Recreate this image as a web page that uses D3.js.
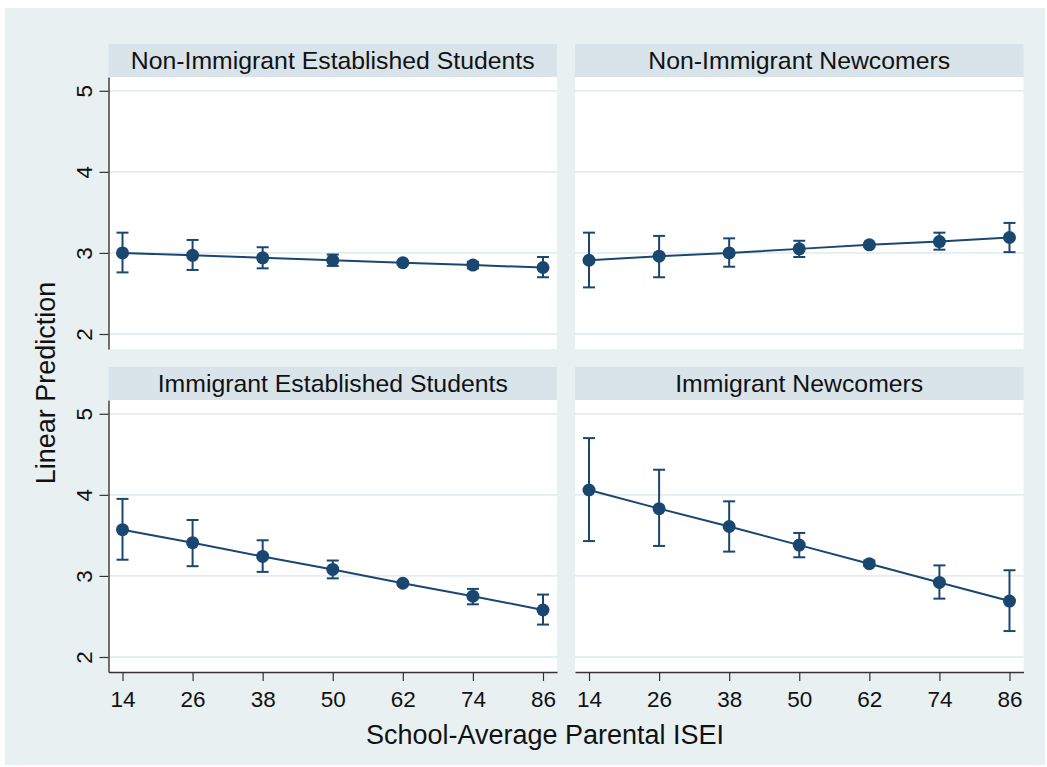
<!DOCTYPE html>
<html>
<head>
<meta charset="utf-8">
<script src="https://cdn.jsdelivr.net/npm/d3@7"></script>
<style>
  html, body { margin: 0; padding: 0; background: #ffffff; }
  svg { display: block; font-family: "Liberation Sans", Arial, Helvetica, sans-serif; }
</style>
</head>
<body>
<svg id="chart" width="1047" height="767"></svg>
<script>
// ---- data ----
const xValues = [14, 26, 38, 50, 62, 74, 86];
const yTicks = [2, 3, 4, 5];
const panelTitles = [
  "Non-Immigrant Established Students",
  "Non-Immigrant Newcomers",
  "Immigrant Established Students",
  "Immigrant Newcomers"
];
const predNonImmEst = [3.00, 2.97, 2.94, 2.91, 2.88, 2.85, 2.82];
const loNonImmEst   = [2.76, 2.79, 2.81, 2.84, 2.86, 2.81, 2.70];
const hiNonImmEst   = [3.25, 3.16, 3.07, 2.98, 2.90, 2.89, 2.95];

const predNonImmNew = [2.91, 2.96, 3.00, 3.05, 3.10, 3.14, 3.19];
const loNonImmNew   = [2.575, 2.70, 2.83, 2.95, 3.07, 3.04, 3.01];
const hiNonImmNew   = [3.25, 3.21, 3.18, 3.15, 3.12, 3.25, 3.37];

const predImmEst = [3.57, 3.41, 3.24, 3.08, 2.91, 2.75, 2.58];
const loImmEst   = [3.20, 3.12, 3.05, 2.97, 2.89, 2.65, 2.40];
const hiImmEst   = [3.95, 3.69, 3.44, 3.19, 2.93, 2.84, 2.77];

const predImmNew = [4.06, 3.83, 3.61, 3.38, 3.15, 2.92, 2.69];
const loImmNew   = [3.43, 3.37, 3.30, 3.23, 3.12, 2.72, 2.32];
const hiImmNew   = [4.70, 4.31, 3.92, 3.53, 3.19, 3.13, 3.07];

const xTitle = "School-Average Parental ISEI";
const yTitle = "Linear Prediction";

// ---- build ----
const panels = [
  { title: panelTitles[0], pred: predNonImmEst, lo: loNonImmEst, hi: hiNonImmEst, col: 0, row: 0 },
  { title: panelTitles[1], pred: predNonImmNew, lo: loNonImmNew, hi: hiNonImmNew, col: 1, row: 0 },
  { title: panelTitles[2], pred: predImmEst,    lo: loImmEst,    hi: hiImmEst,    col: 0, row: 1 },
  { title: panelTitles[3], pred: predImmNew,    lo: loImmNew,    hi: hiImmNew,    col: 1, row: 1 }
];

const navy = "#1a476f";
const bg = "#e8f0f2";
const strip = "#d8e4ea";
const grid = "#e4edf0";

const svg = d3.select("#chart");
svg.append("rect").attr("x", 5).attr("y", 8).attr("width", 1040).attr("height", 757).attr("fill", bg);

const colX = [108.5, 575];
const panelW = 448.5;
const headerTop = [44, 367];
const headerH = 33;
const plotH = 272;

const x = d3.scaleLinear().domain([11.6, 88.4]).range([0, panelW]);
const y = d3.scaleLinear().domain([1.815, 5.17]).range([plotH, 0]);

const line = d3.line().x((d, i) => x(xValues[i])).y(d => y(d));

panels.forEach(p => {
  const gx = colX[p.col];
  const hy = headerTop[p.row];
  const py = hy + headerH;
  const g = svg.append("g").attr("transform", `translate(${gx},${hy})`);
  // header strip
  g.append("rect").attr("x", 0).attr("y", 0).attr("width", panelW).attr("height", headerH).attr("fill", strip);
  g.append("text").attr("x", panelW / 2).attr("y", 25).attr("text-anchor", "middle")
    .attr("font-size", 24.8).attr("fill", "#111").text(p.title);

  const pg = svg.append("g").attr("transform", `translate(${gx},${py})`);
  pg.append("rect").attr("x", 0).attr("y", 0).attr("width", panelW).attr("height", plotH).attr("fill", "#ffffff");
  // gridlines
  pg.selectAll("line.grid").data(yTicks).enter().append("line")
    .attr("class", "grid")
    .attr("x1", 0).attr("x2", panelW)
    .attr("y1", d => y(d)).attr("y2", d => y(d))
    .attr("stroke", grid).attr("stroke-width", 1.8);

  // y axis (left column)
  if (p.col === 0) {
    const ya = pg.append("g").call(d3.axisLeft(y).tickValues(yTicks).tickSize(9).tickSizeOuter(0).tickFormat(d3.format("d")));
    ya.select(".domain").attr("stroke", "#333").attr("stroke-width", 1.4);
    ya.selectAll(".tick line").attr("stroke", "#333").attr("stroke-width", 1.2);
    ya.selectAll(".tick text")
      .attr("transform", "rotate(-90)")
      .attr("x", 0).attr("y", -16.5).attr("dy", 0)
      .attr("text-anchor", "middle")
      .attr("font-size", 22.5).attr("fill", "#111")
      .attr("font-family", "Liberation Sans, Arial, sans-serif");
  }
  // x axis (bottom row)
  if (p.row === 1) {
    const xa = pg.append("g").attr("transform", `translate(0,${plotH})`)
      .call(d3.axisBottom(x).tickValues(xValues).tickSize(9).tickSizeOuter(0).tickFormat(d3.format("d")));
    xa.select(".domain").attr("stroke", "#333").attr("stroke-width", 1.4);
    xa.selectAll(".tick line").attr("stroke", "#333").attr("stroke-width", 1.2);
    xa.selectAll(".tick text")
      .attr("y", 35).attr("dy", 0)
      .attr("font-size", 22.5).attr("fill", "#111")
      .attr("font-family", "Liberation Sans, Arial, sans-serif");
  }

  // error bars
  const eb = pg.append("g");
  xValues.forEach((xv, i) => {
    const cx = x(xv);
    eb.append("line").attr("x1", cx).attr("x2", cx).attr("y1", y(p.lo[i])).attr("y2", y(p.hi[i]))
      .attr("stroke", navy).attr("stroke-width", 2);
    [p.lo[i], p.hi[i]].forEach(v => {
      eb.append("line").attr("x1", cx - 6).attr("x2", cx + 6).attr("y1", y(v)).attr("y2", y(v))
        .attr("stroke", navy).attr("stroke-width", 2);
    });
  });
  // connecting line
  pg.append("path").datum(p.pred).attr("d", line).attr("fill", "none")
    .attr("stroke", navy).attr("stroke-width", 2);
  // markers
  pg.selectAll("circle.pt").data(p.pred).enter().append("circle")
    .attr("class", "pt")
    .attr("cx", (d, i) => x(xValues[i])).attr("cy", d => y(d)).attr("r", 6.5)
    .attr("fill", navy);
});

// axis titles
svg.append("text").attr("x", 545).attr("y", 743.5).attr("text-anchor", "middle")
  .attr("font-size", 27).attr("fill", "#111").text(xTitle);
svg.append("text").attr("transform", "translate(55,383) rotate(-90)").attr("text-anchor", "middle")
  .attr("font-size", 27).attr("fill", "#111").text(yTitle);
</script>
</body>
</html>
